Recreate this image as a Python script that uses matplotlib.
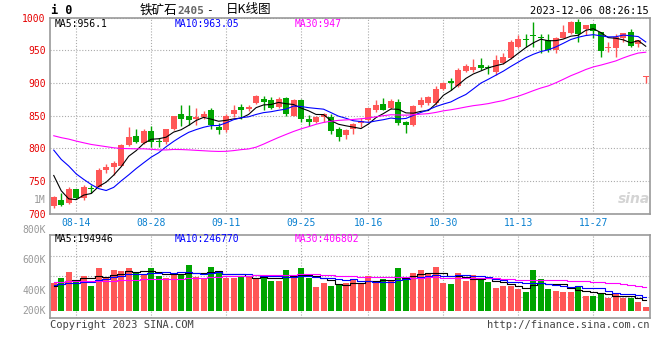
import numpy as np
import pandas as pd
import matplotlib
matplotlib.use("Agg")
import matplotlib.pyplot as plt

plt.rcParams['font.family'] = ['DejaVu Sans Mono', 'Noto Sans CJK SC', 'DejaVu Sans']

# daily candles, 08-09 .. 12-06
opens = [712, 720, 716, 737, 723, 738, 741, 767, 771, 773,
         805, 818, 808, 827, 810, 810, 829, 852, 849, 844,
         847, 858, 833, 828, 852, 863, 860, 869, 876, 874,
         863, 877, 850, 874, 844, 840, 847, 848, 829, 820,
         829, 838, 843, 858, 867, 861, 871, 840, 836, 866,
         869, 869, 891, 903, 895, 918, 920, 927, 924, 917,
         931, 938, 955, 967, 973, 969, 966, 950, 969, 976,
         993, 982, 990, 978, 953, 954, 968, 978, 960, 909]
highs = [727, 731, 740, 738, 744, 743, 770, 776, 781, 807,
         833, 830, 830, 834, 815, 830, 850, 866, 866, 862,
         857, 862, 838, 852, 866, 867, 866, 881, 880, 878,
         878, 879, 876, 876, 851, 849, 854, 853, 832, 829,
         838, 846, 862, 874, 877, 875, 875, 842, 866, 879,
         880, 895, 902, 907, 922, 929, 937, 938, 928, 942,
         945, 965, 973, 975, 993, 975, 975, 970, 988, 995,
         998, 988, 990, 978, 963, 974, 977, 983, 966, 911]
lows = [709, 711, 715, 722, 721, 732, 740, 762, 759, 772,
        803, 808, 806, 802, 802, 807, 828, 834, 835, 835,
        845, 830, 822, 825, 848, 845, 857, 867, 858, 860,
        861, 850, 849, 840, 834, 839, 840, 822, 811, 814,
        822, 833, 842, 856, 858, 860, 835, 823, 834, 863,
        866, 866, 889, 889, 894, 916, 917, 920, 914, 912,
        929, 937, 954, 955, 955, 945, 947, 945, 968, 975,
        962, 973, 968, 940, 947, 940, 963, 955, 955, 899]
closes = [725, 713, 738, 724, 741, 737, 767, 771, 778, 805,
          817, 810, 826, 810, 809, 829, 849, 844, 843, 847,
          853, 835, 828, 850, 858, 859, 863, 880, 871, 861,
          875, 853, 874, 844, 840, 847, 852, 827, 817, 828,
          837, 841, 862, 866, 859, 872, 838, 835, 864, 873,
          878, 890, 900, 899, 919, 926, 924, 923, 923, 935,
          940, 962, 967, 966, 971, 968, 950, 968, 978, 993,
          975, 988, 980, 949, 954, 970, 976, 957, 966, 911]
# volume, thousands of lots
volumes = [493, 580, 684, 522, 615, 441, 754, 586, 719, 696,
           754, 655, 626, 754, 615, 580, 667, 638, 800, 597,
           580, 771, 702, 568, 568, 586, 597, 557, 626, 528,
           528, 719, 615, 742, 568, 423, 487, 435, 470, 481,
           557, 481, 609, 493, 557, 539, 754, 557, 661, 713,
           638, 766, 493, 470, 661, 528, 626, 539, 499, 406,
           435, 435, 380, 336, 713, 557, 383, 348, 336, 336,
           440, 255, 268, 300, 230, 290, 230, 225, 160, 70]

# sessions before the window, only feed the moving averages on the left
prev_close = [800, 805, 815, 820, 812, 818, 822, 830, 835, 826,
              818, 825, 832, 838, 830, 828, 848, 858, 868, 872,
              855, 839, 845, 825, 815, 830, 800, 730, 706]
prev_vol = [520, 560, 500, 610, 540, 580, 470, 530, 600, 510,
            560, 490, 550, 620, 500, 540, 580, 470, 530, 520,
            450, 500, 430, 490, 475, 400, 450, 380, 452]

tick_pos = [3, 13, 23, 33, 42, 52, 62, 72]
tick_labels = ['08-14', '08-28', '09-11', '09-25', '10-16', '10-30', '11-13', '11-27']

n = len(closes)
x = np.arange(n)
cs = pd.Series(prev_close + closes)
ma5 = cs.rolling(5).mean().values[-n:]
ma10 = cs.rolling(10).mean().values[-n:]
ma30 = cs.rolling(30).mean().values[-n:]
vs = pd.Series(prev_vol + volumes)
vma5 = vs.rolling(5).mean().values[-n:]
vma10 = vs.rolling(10).mean().values[-n:]
vma30 = vs.rolling(30).mean().values[-n:]

W, H = 660, 360
fig = plt.figure(figsize=(W / 100, H / 100), dpi=100)


def rect(l, t, r, b):
    return [l / W, 1 - b / H, (r - l) / W, (b - t) / H]


def ptext(px, py, s, **kw):
    kw.setdefault('va', 'center')
    kw.setdefault('fontsize', 7)
    fig.text(px / W, 1 - py / H, s, **kw)


RED = '#ff5757'
GREEN = '#00a400'
GRID = dict(color='#aaaaaa', linestyle=(0, (1, 1.6)), linewidth=0.8)

o = np.array(opens)
c = np.array(closes)
col = np.where(c >= o, RED, GREEN)

# price panel
ax = fig.add_axes(rect(50, 17.5, 649.5, 213.5))
ax.vlines(x, lows, highs, colors=col, linewidth=1, zorder=2)
ax.bar(x, np.maximum(np.abs(c - o), 1.5), bottom=np.minimum(o, c), width=0.8,
       color=col, linewidth=0, zorder=3)
ax.plot(x, ma5, color='black', linewidth=0.8, zorder=4)
ax.plot(x, ma10, color='#0000ff', linewidth=0.8, zorder=4)
ax.plot(x, ma30, color='#ff00ff', linewidth=0.8, zorder=4)
ax.set_xlim(-0.5, n - 0.5)
ax.set_ylim(700, 1000)
ax.set_yticks(range(700, 1001, 50))
ax.set_yticklabels([str(v) for v in range(700, 1001, 50)], color='#e60000', fontsize=7)
ax.set_xticks(tick_pos)
ax.set_xticklabels(tick_labels, color='#0a80d0', fontsize=7)
ax.tick_params(length=0, pad=3)
ax.grid(True, **GRID)
ax.set_axisbelow(True)

# volume panel
axv = fig.add_axes(rect(50, 235, 649.5, 318))
axv.bar(x, volumes, width=0.8, color=col, linewidth=0, zorder=3)
axv.plot(x, vma5, color='black', linewidth=0.8, drawstyle='steps-mid', zorder=4)
axv.plot(x, vma10, color='#0000ff', linewidth=0.8, drawstyle='steps-mid', zorder=4)
axv.plot(x, vma30, color='#ff00ff', linewidth=0.8, drawstyle='steps-mid', zorder=4)
axv.set_xlim(-0.5, n - 0.5)
vlo, vhi = -121.7, 1321.7
axv.set_ylim(vlo, vhi)
axv.set_yticks([vlo + (vhi - vlo) * f for f in (0.25, 0.5, 0.75)])
axv.set_xticks(tick_pos)
axv.tick_params(length=0, labelleft=False, labelbottom=False)
axv.grid(True, **GRID)
axv.set_axisbelow(True)

for a in (ax, axv):
    for s in a.spines.values():
        s.set_color('#999999')
        s.set_linewidth(1.2)

# volume scale labels as drawn by the source chart
for lab, py in [('800K', 230), ('600K', 260), ('400K', 291), ('200K', 311), ('1M', 200)]:
    ptext(46, py, lab, ha='right', color='#999999')

# header
ptext(51, 10, 'i 0', ha='left', fontsize=8.5, fontweight='bold')
ptext(140, 10, '铁矿石', ha='left', fontsize=9, family=['Noto Sans CJK SC'])
ptext(177, 10.5, '2405', ha='left', fontsize=8, color='#666666', fontweight='bold')
ptext(206, 10, '-', ha='left', fontsize=8)
ptext(226, 10, '日K线图', ha='left', fontsize=9, family=['Noto Sans CJK SC'])
ptext(649, 11, '2023-12-06 08:26:15', ha='right', fontsize=7.5)

ptext(55, 24, 'MA5:956.1', ha='left', color='black')
ptext(175, 24, 'MA10:963.05', ha='left', color='#0000ff')
ptext(295, 24, 'MA30:947', ha='left', color='#ff00ff')
ptext(55, 239, 'MA5:194946', ha='left', color='black')
ptext(175, 239, 'MA10:246770', ha='left', color='#0000ff')
ptext(295, 239, 'MA30:406802', ha='left', color='#ff00ff')

ptext(50, 325, 'Copyright 2023 SINA.COM', ha='left', color='#444444', fontsize=7.5)
ptext(649, 325, 'http://finance.sina.com.cn', ha='right', color='#444444', fontsize=7.5)
ptext(634, 199, 'sina', ha='center', color='#d4d4d4', fontsize=10,
      fontweight='bold', style='italic', family=['DejaVu Sans'])

fig.savefig('out.png', dpi=100)
